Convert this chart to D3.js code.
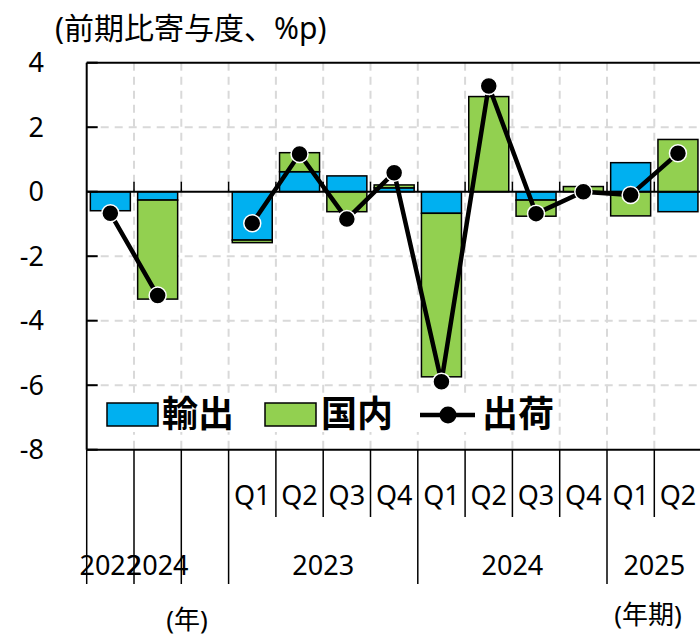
<!DOCTYPE html>
<html>
<head>
<meta charset="utf-8">
<script src="https://cdn.jsdelivr.net/npm/d3@7"></script>
<style>
  body { margin: 0; background: #fff; }
  text { font-family: "Noto Sans", "Noto Sans CJK JP", sans-serif; fill: #000; }
</style>
</head>
<body>
<div id="chart"></div>
<script>
// slots along the x axis (one empty slot between annual and quarterly data)
var slots = ["2022", "2024", "gap", "2023Q1", "2023Q2", "2023Q3", "2023Q4",
             "2024Q1", "2024Q2", "2024Q3", "2024Q4", "2025Q1", "2025Q2"];
var slotLabels = ["", "", "", "Q1", "Q2", "Q3", "Q4", "Q1", "Q2", "Q3", "Q4", "Q1", "Q2"];
// 輸出, 国内 contributions and 出荷 total
var exportsVals  = [-0.59, -0.26, null, -1.50, 0.62, 0.49, 0.12, -0.67, 0.00, -0.26, 0.00, 0.90, -0.62];
var domesticVals = [0.00, -3.07, null, -0.08, 0.59, -0.62, 0.09, -5.07, 2.95, -0.50, 0.16, -0.75, 1.62];
var shipmentVals = [-0.67, -3.22, null, -0.98, 1.17, -0.85, 0.59, -5.89, 3.28, -0.68, 0.00, -0.10, 1.19];
// year groups: label, first slot, last slot (inclusive)
var yearGroups = [["2022", 0, 0], ["2024", 1, 1], ["2023", 3, 6], ["2024", 7, 10], ["2025", 11, 12]];
var yTicks = [4, 2, 0, -2, -4, -6, -8];

var width = 700, height = 637;
var plotL = 86.7, plotR = 701.6, plotT = 62.7, plotB = 449.7;
var blue = "#00b0f0", green = "#92d050";

var svg = d3.select("#chart").append("svg")
    .attr("width", width)
    .attr("height", height);

var x = d3.scaleBand().domain(slots).range([plotL, plotR]).padding(0);
var y = d3.scaleLinear().domain([-8, 4]).range([plotB, plotT]);
var step = x.step();
var barW = 40;
var cx = function(i) { return x(slots[i]) + step / 2; };

// gridlines
svg.append("g").selectAll("line")
    .data([2, -2, -4, -6])
    .enter().append("line")
    .attr("x1", plotL).attr("x2", plotR)
    .attr("y1", function(d) { return y(d); })
    .attr("y2", function(d) { return y(d); })
    .attr("stroke", "#d9d9d9").attr("stroke-width", 2)
    .attr("stroke-dasharray", "8,6");

svg.append("g").selectAll("line")
    .data(d3.range(1, slots.length))
    .enter().append("line")
    .attr("x1", function(i) { return x(slots[i]); })
    .attr("x2", function(i) { return x(slots[i]); })
    .attr("y1", plotT).attr("y2", plotB)
    .attr("stroke", "#d9d9d9").attr("stroke-width", 2)
    .attr("stroke-dasharray", "8,6");

// stacked bars (diverging)
var segs = [];
slots.forEach(function(s, i) {
    if (exportsVals[i] === null) return;
    var pos = 0, neg = 0;
    [[exportsVals[i], blue], [domesticVals[i], green]].forEach(function(p) {
        var v = p[0], y0, y1;
        if (v === 0) return;
        if (v > 0) { y0 = pos; y1 = pos + v; pos = y1; }
        else { y0 = neg; y1 = neg + v; neg = y1; }
        segs.push({i: i, y0: y0, y1: y1, color: p[1]});
    });
});

svg.append("g").selectAll("rect")
    .data(segs)
    .enter().append("rect")
    .attr("x", function(d) { return cx(d.i) - barW / 2; })
    .attr("width", barW)
    .attr("y", function(d) { return y(Math.max(d.y0, d.y1)); })
    .attr("height", function(d) { return Math.abs(y(d.y0) - y(d.y1)); })
    .attr("fill", function(d) { return d.color; })
    .attr("stroke", "#000").attr("stroke-width", 1.5);

// zero line with small ticks
svg.append("line")
    .attr("x1", plotL).attr("x2", plotR)
    .attr("y1", y(0)).attr("y2", y(0))
    .attr("stroke", "#000").attr("stroke-width", 2);
svg.append("g").selectAll("line")
    .data(d3.range(1, slots.length))
    .enter().append("line")
    .attr("x1", function(i) { return x(slots[i]); })
    .attr("x2", function(i) { return x(slots[i]); })
    .attr("y1", y(0) - 10).attr("y2", y(0))
    .attr("stroke", "#000").attr("stroke-width", 1.5);

// 出荷 line
var line = d3.line()
    .defined(function(d) { return d !== null; })
    .x(function(d, i) { return cx(i); })
    .y(function(d) { return y(d); });

svg.append("path")
    .datum(shipmentVals)
    .attr("d", line)
    .attr("fill", "none")
    .attr("stroke", "#000").attr("stroke-width", 4.5)
    .attr("stroke-linejoin", "round");

svg.append("g").selectAll("circle")
    .data(shipmentVals.map(function(v, i) { return {v: v, i: i}; }).filter(function(d) { return d.v !== null; }))
    .enter().append("circle")
    .attr("cx", function(d) { return cx(d.i); })
    .attr("cy", function(d) { return y(d.v); })
    .attr("r", 8.5)
    .attr("fill", "#000")
    .attr("stroke", "#fff").attr("stroke-width", 1.5);

// frame: top, left axis, bottom axis
svg.append("line").attr("x1", plotL).attr("x2", plotR).attr("y1", plotT).attr("y2", plotT)
    .attr("stroke", "#000").attr("stroke-width", 2);
svg.append("line").attr("x1", plotL).attr("x2", plotR).attr("y1", plotB).attr("y2", plotB)
    .attr("stroke", "#000").attr("stroke-width", 2);
svg.append("line").attr("x1", plotL).attr("x2", plotL).attr("y1", plotT).attr("y2", plotB)
    .attr("stroke", "#000").attr("stroke-width", 2);

// y ticks + labels
svg.append("g").selectAll("line")
    .data(yTicks)
    .enter().append("line")
    .attr("x1", plotL).attr("x2", plotL + 11)
    .attr("y1", function(d) { return y(d); })
    .attr("y2", function(d) { return y(d); })
    .attr("stroke", "#000").attr("stroke-width", 2);

svg.append("g").selectAll("text")
    .data(yTicks)
    .enter().append("text")
    .attr("x", 44)
    .attr("y", function(d) { return y(d); })
    .attr("dy", "0.36em")
    .attr("text-anchor", "end")
    .attr("font-size", 27)
    .text(function(d) { return d; });

// x axis: category separators
var longTicks = [0, 1, 2, 3, 7, 11];
svg.append("g").selectAll("line")
    .data(d3.range(0, slots.length))
    .enter().append("line")
    .attr("x1", function(i) { return x(slots[i]); })
    .attr("x2", function(i) { return x(slots[i]); })
    .attr("y1", plotB)
    .attr("y2", function(i) { return longTicks.indexOf(i) >= 0 ? 584 : 517; })
    .attr("stroke", "#000").attr("stroke-width", 1.5);

svg.append("g").selectAll("text")
    .data(slotLabels)
    .enter().append("text")
    .attr("x", function(d, i) { return cx(i); })
    .attr("y", 495)
    .attr("dy", "0.36em")
    .attr("text-anchor", "middle")
    .attr("font-size", 27)
    .text(function(d) { return d; });

svg.append("g").selectAll("text")
    .data(yearGroups)
    .enter().append("text")
    .attr("x", function(d) { return (x(slots[d[1]]) + x(slots[d[2]]) + step) / 2; })
    .attr("y", 565)
    .attr("dy", "0.36em")
    .attr("text-anchor", "middle")
    .attr("font-size", 27)
    .text(function(d) { return d[0]; });

svg.append("text").attr("x", 187).attr("y", 620).attr("dy", "0.36em")
    .attr("text-anchor", "middle").attr("font-size", 26).text("(年)");
svg.append("text").attr("x", 648).attr("y", 615).attr("dy", "0.36em")
    .attr("text-anchor", "middle").attr("font-size", 26).text("(年期)");

// title
svg.append("text").attr("x", 55).attr("y", 28).attr("dy", "0.36em")
    .attr("font-size", 30).text("(前期比寄与度、%p)");

// legend
var lg = svg.append("g");
lg.append("rect").attr("x", 100).attr("y", 398).attr("width", 458).attr("height", 34).attr("fill", "#fff");
lg.append("rect").attr("x", 107).attr("y", 403).attr("width", 51).attr("height", 23)
    .attr("fill", blue).attr("stroke", "#000").attr("stroke-width", 1.5);
lg.append("text").attr("x", 162).attr("y", 414.5).attr("dy", "0.36em")
    .attr("font-size", 36).attr("font-weight", "bold").text("輸出");
lg.append("rect").attr("x", 265).attr("y", 403).attr("width", 51).attr("height", 23)
    .attr("fill", green).attr("stroke", "#000").attr("stroke-width", 1.5);
lg.append("text").attr("x", 321).attr("y", 414.5).attr("dy", "0.36em")
    .attr("font-size", 36).attr("font-weight", "bold").text("国内");
lg.append("line").attr("x1", 420).attr("x2", 475).attr("y1", 415).attr("y2", 415)
    .attr("stroke", "#000").attr("stroke-width", 4.5);
lg.append("circle").attr("cx", 448).attr("cy", 415).attr("r", 8.5).attr("fill", "#000");
lg.append("text").attr("x", 482).attr("y", 414.5).attr("dy", "0.36em")
    .attr("font-size", 36).attr("font-weight", "bold").text("出荷");
</script>
</body>
</html>
